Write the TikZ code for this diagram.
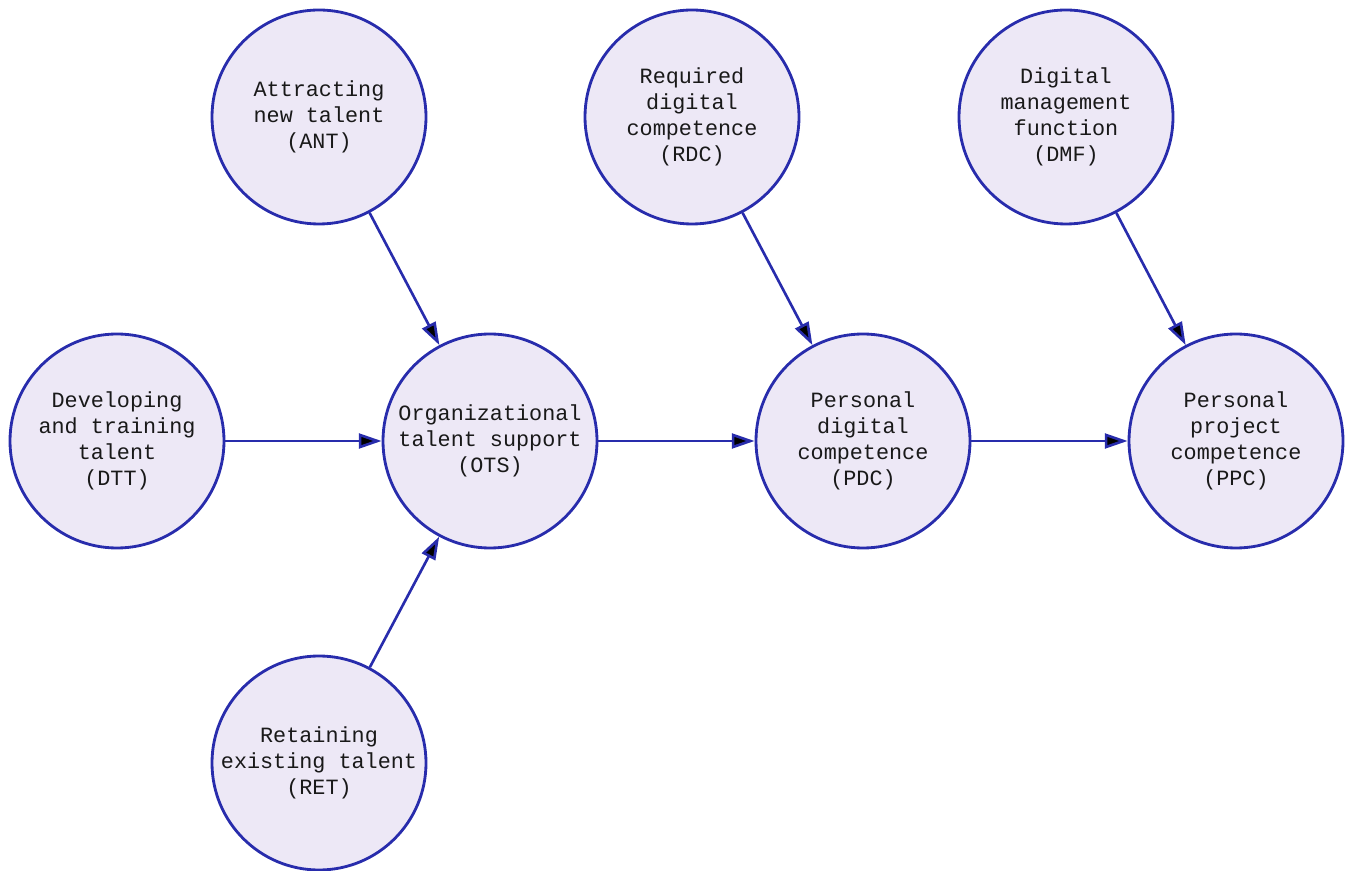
\documentclass[tikz,border=0pt]{standalone}
\usepackage{fontspec}
\setmonofont{Liberation Mono}
\usepackage{tikz}
\usetikzlibrary{arrows.meta}

\definecolor{ringblue}{RGB}{40,44,172}
\definecolor{ringfill}{RGB}{237,232,246}

\begin{document}
\begin{tikzpicture}[
	factor/.style={shape=circle, draw=ringblue, fill=ringfill, line width=1.6pt,
		minimum size=4.28cm, inner sep=0pt, align=center, text=black!90,
		font=\ttfamily\fontsize{12.4}{14.8}\selectfont},
	link/.style={-{Triangle[length=13pt,width=8.5pt]}, draw=ringblue, line width=1.5pt}
	]
			\useasboundingbox (0,0) rectangle (26.96,-17.42);
			
			\node[factor] (ant) at (6.38,-2.34) {Attracting\\new talent\\(ANT)};
			\node[factor] (rdc) at (13.84,-2.34) {Required\\digital\\competence\\(RDC)};
			\node[factor] (dmf) at (21.32,-2.34) {Digital\\management\\function\\(DMF)};
			\node[factor] (dtt) at (2.34,-8.82) {Developing\\and training\\talent\\(DTT)};
			\node[factor] (ots) at (9.8,-8.82) {Organizational\\talent support\\(OTS)};
			\node[factor] (pdc) at (17.26,-8.82) {Personal\\digital\\competence\\(PDC)};
			\node[factor] (ppc) at (24.72,-8.82) {Personal\\project\\competence\\(PPC)};
			\node[factor] (ret) at (6.38,-15.26) {Retaining\\existing talent\\(RET)};
			
			\path [link] (ant) edge (ots);
			\path [link] (dtt) edge (ots);
			\path [link] (ret) edge (ots);
			\path [link] (ots) edge (pdc);
			\path [link] (rdc) edge (pdc);
			\path [link] (pdc) edge (ppc);
			\path [link] (dmf) edge (ppc);
		\end{tikzpicture}
\end{document}
